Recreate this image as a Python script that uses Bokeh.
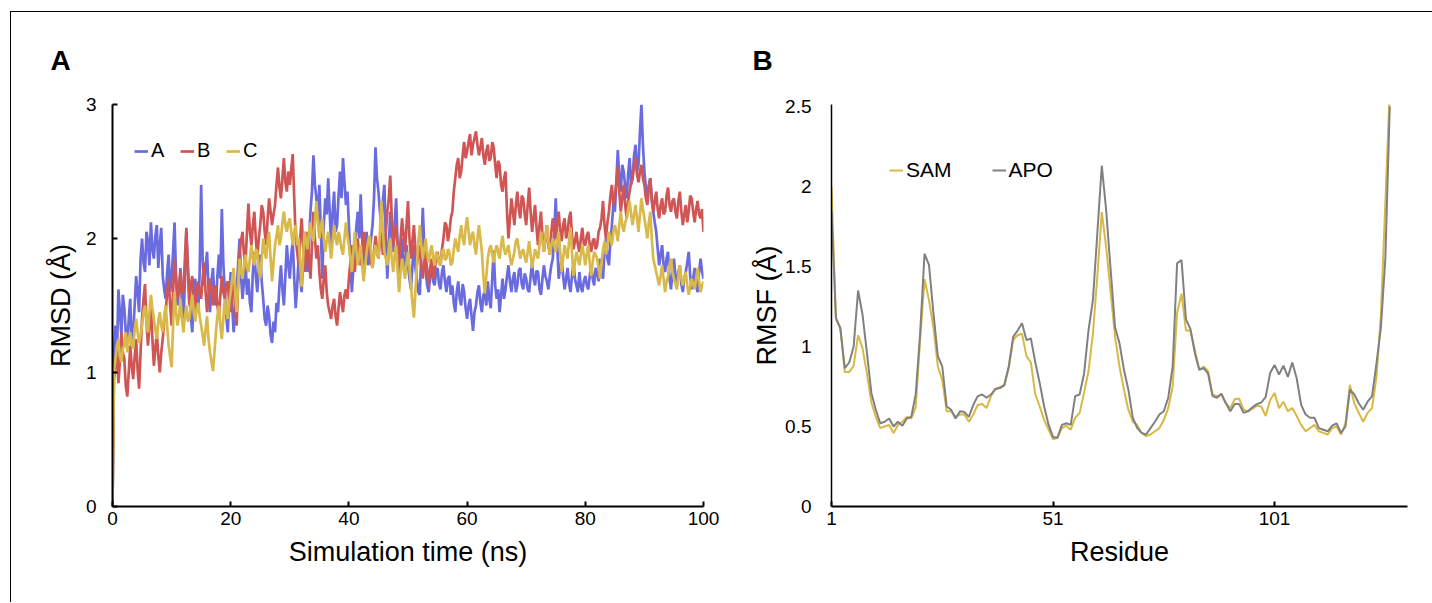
from bokeh.plotting import figure
from bokeh.models import Range1d, FixedTicker, Legend, LegendItem
from bokeh.layouts import row
from bokeh.embed import file_html
from bokeh.resources import INLINE
import numpy as np

# ---------------- data: panel A (RMSD vs time, sampled every 0.25 ns) ----------------
time_ns = np.arange(0, 100.001, 0.25)

rmsd_a = [
    0.0, 1.15, 1.35, 1.12, 1.62, 1.45, 1.28, 1.58, 1.48, 1.3, 1.22, 1.4, 1.55, 1.18, 1.3, 1.5, 1.72, 1.6, 1.45, 1.85,
    2.0, 1.82, 1.75, 2.05, 1.98, 1.8, 2.12, 1.92, 1.85, 2.02, 2.1, 1.78, 1.95, 2.08, 1.72, 1.62, 1.55, 1.75, 1.88, 1.6,
    1.7, 1.9, 2.12, 1.72, 1.5, 1.62, 1.78, 1.52, 1.35, 1.7, 2.05, 1.8, 1.6, 1.42, 1.3, 1.55, 1.7, 1.5, 1.45, 1.75,
    2.4, 1.85, 1.65, 1.78, 1.9, 1.62, 1.45, 1.68, 1.78, 1.55, 1.5, 1.72, 1.88, 1.7, 2.22, 1.82, 1.6, 1.42, 1.3, 1.55,
    1.75, 1.5, 1.3, 1.48, 1.62, 1.8, 2.0, 1.72, 1.55, 1.68, 1.85, 1.58, 1.7, 1.52, 1.45, 1.75, 1.9, 1.72, 1.6, 1.78,
    1.88, 1.68, 1.55, 1.4, 1.35, 1.5, 1.42, 1.28, 1.22, 1.38, 1.3, 1.52, 1.45, 1.65, 1.8, 1.62, 1.5, 1.72, 1.95, 1.8,
    1.7, 1.88, 1.98, 1.7, 1.48, 1.65, 1.85, 1.72, 1.6, 1.82, 2.05, 1.9, 1.75, 1.98, 2.2, 2.35, 2.62, 2.4, 2.3, 2.15,
    2.4, 2.05, 1.7, 2.1, 2.3, 2.18, 2.45, 2.2, 1.95, 2.2, 2.35, 2.05, 2.1, 2.32, 2.5, 2.3, 2.6, 2.42, 2.25, 2.35,
    2.1, 1.85, 1.6, 1.78, 1.9, 2.08, 2.2, 2.0, 2.33, 2.0, 1.75, 1.92, 2.05, 1.8, 1.85, 2.0, 2.1, 2.3, 2.68, 2.45,
    2.35, 2.2, 2.1, 2.28, 2.4, 2.0, 1.7, 1.95, 2.2, 2.05, 1.9, 2.12, 2.3, 1.92, 1.65, 1.85, 2.0, 1.82, 1.75, 1.95,
    1.8, 1.7, 1.62, 1.8, 1.95, 1.78, 1.7, 1.6, 1.58, 1.9, 2.23, 1.95, 1.75, 1.65, 1.6, 1.72, 1.82, 1.68, 1.65, 1.75,
    1.78, 1.66, 1.62, 1.75, 1.8, 1.68, 1.6, 1.7, 1.72, 1.58, 1.65, 1.52, 1.45, 1.6, 1.68, 1.55, 1.5, 1.66, 1.6, 1.48,
    1.4, 1.5, 1.55, 1.42, 1.31, 1.45, 1.5, 1.6, 1.65, 1.52, 1.45, 1.58, 1.6, 1.5, 1.68, 1.55, 1.48, 1.7, 1.91, 1.65,
    1.55, 1.62, 1.45, 1.58, 1.7, 1.55, 1.62, 1.72, 1.8, 1.68, 1.6, 1.7, 1.75, 1.6, 1.65, 1.76, 1.78, 1.66, 1.62, 1.74,
    1.7, 1.62, 1.6, 1.72, 1.82, 1.7, 1.65, 1.76, 1.75, 1.62, 1.58, 1.7, 1.8, 1.72, 1.68, 1.62, 1.72, 1.8, 1.85, 2.05,
    2.3, 1.95, 1.7, 1.78, 1.85, 1.72, 1.62, 1.7, 1.78, 1.66, 1.6, 1.72, 1.82, 1.7, 1.65, 1.6, 1.75, 1.64, 1.6, 1.68,
    1.72, 1.65, 1.62, 1.72, 1.8, 1.7, 1.65, 1.78, 1.75, 1.68, 1.85, 1.75, 1.7, 1.9, 2.0, 1.85, 1.8, 1.98, 2.1, 2.25,
    2.2, 2.42, 2.66, 2.45, 2.35, 2.55, 2.5, 2.38, 2.3, 2.48, 2.6, 2.4, 2.45, 2.62, 2.7, 2.5, 2.55, 2.8, 3.0, 2.7,
    2.5, 2.38, 2.3, 2.4, 2.45, 2.28, 2.2, 2.12, 2.05, 1.92, 1.8, 1.88, 1.95, 1.8, 1.75, 1.85, 1.9, 1.7, 1.62, 1.75,
    1.85, 1.72, 1.65, 1.75, 1.8, 1.66, 1.6, 1.7, 1.75, 1.82, 1.9, 1.72, 1.62, 1.7, 1.78, 1.65, 1.6, 1.75, 1.85, 1.76,
    1.7]

rmsd_b = [
    0.0, 0.95, 1.05, 1.2, 0.92, 1.08, 1.3, 1.15, 1.1, 0.9, 0.82, 1.0, 1.2, 1.05, 0.95, 1.12, 1.25, 1.02, 0.88, 1.15,
    1.4, 1.55, 1.66, 1.38, 1.2, 1.35, 1.5, 1.25, 1.05, 1.18, 1.3, 1.12, 1.0, 1.15, 1.25, 1.38, 1.45, 1.6, 1.7, 1.5,
    1.35, 1.6, 1.85, 1.7, 1.55, 1.62, 1.75, 1.58, 1.6, 1.85, 2.08, 1.75, 1.5, 1.65, 1.72, 1.55, 1.45, 1.58, 1.68, 1.6,
    1.55, 1.7, 1.82, 1.6, 1.45, 1.58, 1.7, 1.62, 1.5, 1.6, 1.65, 1.5, 1.42, 1.58, 1.72, 1.6, 1.55, 1.66, 1.68, 1.52,
    1.45, 1.6, 1.7, 1.5, 1.35, 1.65, 1.9, 1.98, 2.05, 1.88, 1.8, 2.05, 2.26, 2.05, 1.95, 2.1, 2.2, 2.0, 1.85, 2.0,
    2.1, 2.25, 2.2, 2.05, 1.95, 2.15, 2.3, 2.2, 2.1, 2.18, 2.25, 2.4, 2.53, 2.38, 2.3, 2.45, 2.6, 2.42, 2.35, 2.5,
    2.4, 2.52, 2.63, 2.3, 2.0, 1.9, 1.8, 2.0, 2.15, 1.95, 1.75, 1.9, 2.05, 1.85, 1.7, 1.95, 2.2, 2.0, 1.85, 1.95,
    1.75, 1.62, 1.55, 1.7, 1.8, 1.6, 1.5, 1.45, 1.4, 1.5, 1.55, 1.42, 1.35, 1.48, 1.6, 1.52, 1.45, 1.58, 1.62, 1.55,
    1.7, 1.82, 1.95, 1.8, 1.75, 1.9, 2.0, 1.85, 1.8, 1.95, 2.05, 1.9, 1.85, 2.0, 1.95, 1.82, 1.78, 1.9, 2.02, 1.92,
    1.85, 1.98, 2.05, 1.88, 1.9, 2.05, 2.2, 2.3, 2.47, 2.15, 1.95, 2.05, 2.1, 1.92, 1.8, 2.0, 2.15, 2.02, 1.9, 2.1,
    2.28, 2.0, 1.85, 1.98, 2.1, 1.92, 1.8, 1.88, 1.95, 1.8, 1.7, 1.82, 1.9, 1.75, 1.65, 1.78, 1.85, 1.7, 1.75, 1.85,
    1.9, 1.82, 1.8, 1.92, 2.0, 2.12, 2.1, 1.98, 2.05, 2.15, 2.2, 2.35, 2.45, 2.55, 2.6, 2.45, 2.5, 2.62, 2.72, 2.6,
    2.65, 2.72, 2.78, 2.62, 2.7, 2.75, 2.8, 2.7, 2.62, 2.68, 2.75, 2.62, 2.55, 2.65, 2.7, 2.58, 2.6, 2.72, 2.68, 2.55,
    2.45, 2.58, 2.55, 2.4, 2.35, 2.45, 2.5, 2.2, 2.0, 2.15, 2.3, 2.2, 2.1, 2.25, 2.35, 2.22, 2.15, 2.32, 2.3, 2.18,
    2.1, 2.25, 2.38, 2.2, 2.05, 2.15, 2.25, 2.08, 1.95, 2.1, 2.2, 2.02, 1.9, 2.0, 2.1, 1.95, 1.88, 2.05, 2.15, 2.05,
    2.0, 2.12, 2.2, 2.05, 1.98, 2.1, 2.15, 2.0, 2.05, 2.15, 2.2, 2.02, 1.92, 1.98, 2.05, 1.95, 1.9, 2.0, 2.08, 1.96,
    1.95, 2.02, 2.05, 1.95, 1.9, 1.98, 2.0, 1.92, 1.95, 2.05, 2.08, 2.15, 2.28, 2.1, 2.0, 2.12, 2.2, 2.32, 2.4, 2.25,
    2.3, 2.42, 2.53, 2.35, 2.2, 2.3, 2.4, 2.25, 2.15, 2.28, 2.35, 2.42, 2.45, 2.55, 2.6, 2.48, 2.42, 2.5, 2.55, 2.45,
    2.4, 2.3, 2.25, 2.38, 2.45, 2.3, 2.2, 2.28, 2.35, 2.22, 2.15, 2.25, 2.3, 2.18, 2.2, 2.32, 2.38, 2.25, 2.2, 2.28,
    2.3, 2.2, 2.15, 2.28, 2.35, 2.2, 2.1, 2.18, 2.25, 2.12, 2.2, 2.32, 2.3, 2.2, 2.12, 2.22, 2.28, 2.18, 2.15, 2.22,
    2.05]

rmsd_c = [
    0.0, 1.0, 1.1, 1.2, 1.25, 1.12, 1.08, 1.18, 1.2, 1.3, 1.15, 1.25, 1.3, 1.2, 1.18, 1.32, 1.4, 1.3, 1.22, 1.28,
    1.35, 1.45, 1.5, 1.38, 1.3, 1.45, 1.58, 1.48, 1.4, 1.32, 1.25, 1.38, 1.45, 1.35, 1.3, 1.42, 1.5, 1.35, 1.2, 1.12,
    1.04, 1.35, 1.6, 1.45, 1.35, 1.42, 1.55, 1.4, 1.3, 1.42, 1.5, 1.38, 1.4, 1.5, 1.58, 1.45, 1.38, 1.48, 1.52, 1.42,
    1.35, 1.28, 1.2, 1.32, 1.42, 1.25, 1.15, 1.08, 1.01, 1.15, 1.3, 1.42, 1.5, 1.35, 1.25, 1.4, 1.55, 1.45, 1.4, 1.52,
    1.6, 1.7, 1.78, 1.6, 1.45, 1.65, 1.85, 1.75, 1.7, 1.8, 1.88, 1.78, 1.75, 1.85, 1.95, 1.85, 1.8, 1.92, 1.9, 1.78,
    1.7, 1.85, 2.0, 1.9, 1.85, 1.98, 2.05, 1.85, 1.68, 1.82, 1.95, 2.02, 2.1, 1.95, 2.0, 2.12, 2.2, 2.1, 2.05, 2.12,
    2.15, 2.05, 1.95, 2.05, 2.1, 1.95, 2.0, 1.82, 1.64, 1.85, 2.05, 1.98, 1.92, 2.05, 2.12, 2.02, 1.98, 2.12, 2.28, 2.12,
    2.0, 2.08, 2.15, 2.0, 1.9, 1.98, 2.05, 1.95, 1.85, 1.98, 2.1, 2.0, 1.95, 2.05, 2.0, 1.92, 1.88, 2.0, 2.12, 2.02,
    1.95, 1.85, 1.75, 1.9, 2.05, 1.92, 1.8, 1.88, 1.95, 1.8, 1.68, 1.8, 1.9, 1.98, 2.02, 1.9, 1.78, 1.88, 1.95, 1.88,
    1.85, 2.05, 2.28, 2.05, 1.9, 1.85, 1.8, 1.92, 2.0, 1.85, 1.75, 1.88, 1.95, 1.75, 1.6, 1.75, 1.85, 1.78, 1.7, 1.82,
    1.9, 1.78, 1.65, 1.52, 1.41, 1.6, 1.8, 1.98, 2.1, 1.95, 1.85, 1.92, 2.0, 1.88, 1.82, 1.9, 1.95, 1.85, 1.8, 1.9,
    1.88, 1.82, 1.8, 1.9, 1.92, 1.84, 1.85, 1.92, 1.9, 1.8, 1.82, 1.92, 2.0, 1.95, 1.9, 2.02, 2.1, 2.0, 1.95, 2.08,
    2.16, 2.05, 1.95, 2.02, 2.05, 1.95, 1.88, 2.0, 2.1, 2.0, 1.9, 1.72, 1.59, 1.72, 1.85, 1.92, 1.95, 1.88, 1.82, 1.9,
    1.95, 1.9, 1.85, 1.95, 2.02, 1.92, 1.88, 1.92, 1.95, 1.86, 1.8, 1.85, 1.9, 1.98, 2.0, 1.92, 1.85, 1.9, 1.92, 1.86,
    1.82, 1.9, 1.98, 1.88, 1.78, 1.85, 1.92, 1.88, 1.85, 1.95, 2.05, 1.98, 1.9, 2.0, 2.1, 1.98, 1.88, 1.95, 2.0, 1.95,
    1.9, 1.98, 2.05, 1.9, 1.75, 1.85, 1.95, 1.9, 1.85, 1.98, 2.08, 1.9, 1.72, 1.82, 1.9, 1.85, 1.8, 1.88, 1.95, 1.88,
    1.8, 1.88, 1.95, 1.82, 1.72, 1.82, 1.9, 1.88, 1.85, 1.78, 1.7, 1.82, 1.92, 1.98, 1.88, 1.95, 2.05, 2.0, 1.95, 2.05,
    2.1, 2.05, 1.98, 2.1, 2.2, 2.1, 2.05, 2.12, 2.15, 2.22, 2.28, 2.18, 2.1, 2.18, 2.25, 2.15, 2.05, 2.18, 2.3, 2.22,
    2.15, 2.08, 2.0, 2.12, 2.2, 2.0, 1.85, 1.8, 1.75, 1.7, 1.65, 1.72, 1.8, 1.7, 1.6, 1.68, 1.72, 1.8, 1.85, 1.75,
    1.7, 1.66, 1.62, 1.72, 1.8, 1.7, 1.65, 1.7, 1.75, 1.65, 1.58, 1.64, 1.7, 1.66, 1.62, 1.7, 1.78, 1.68, 1.6, 1.65,
    1.68]

time_ticks = [0, 20, 40, 60, 80, 100]
rmsd_ticks = [0, 1, 2, 3]

# ---------------- data: panel B (RMSF vs residue) ----------------
residue = list(range(1, 128))

rmsf_apo = [
    1.85, 1.18, 1.11, 0.865, 0.90, 1.00, 1.35, 1.20, 0.96, 0.71,
    0.605, 0.52, 0.53, 0.55, 0.50, 0.53, 0.505, 0.55, 0.56, 0.70,
    1.08, 1.58, 1.51, 1.21, 0.94, 0.875, 0.625, 0.605, 0.55, 0.595,
    0.59, 0.56, 0.635, 0.69, 0.70, 0.68, 0.70, 0.735, 0.74, 0.76,
    0.875, 1.06, 1.10, 1.145, 1.04, 1.05, 0.90, 0.77, 0.625, 0.51,
    0.435, 0.43, 0.51, 0.52, 0.51, 0.69, 0.70, 0.83, 1.10, 1.29,
    1.71, 2.13, 1.85, 1.48, 1.12, 1.02, 0.855, 0.73, 0.555, 0.49,
    0.46, 0.45, 0.49, 0.53, 0.575, 0.595, 0.68, 0.875, 1.52, 1.54,
    1.17, 1.11, 0.96, 0.855, 0.865, 0.83, 0.69, 0.68, 0.705, 0.645,
    0.595, 0.64, 0.64, 0.585, 0.595, 0.62, 0.64, 0.65, 0.685, 0.835,
    0.885, 0.825, 0.88, 0.81, 0.90, 0.80, 0.635, 0.575, 0.555, 0.555,
    0.49, 0.48, 0.47, 0.505, 0.52, 0.46, 0.50, 0.73, 0.70, 0.645,
    0.605, 0.655, 0.69, 0.895, 1.12, 1.55, 2.50]

rmsf_sam = [
    2.00, 1.17, 1.12, 0.84, 0.84, 0.88, 1.07, 0.99, 0.83, 0.65,
    0.56, 0.49, 0.50, 0.51, 0.46, 0.51, 0.53, 0.56, 0.55, 0.62,
    1.04, 1.42, 1.29, 1.12, 0.875, 0.79, 0.595, 0.595, 0.56, 0.575,
    0.575, 0.53, 0.575, 0.635, 0.64, 0.615, 0.69, 0.735, 0.745, 0.755,
    0.865, 1.04, 1.07, 1.08, 0.94, 0.90, 0.70, 0.625, 0.54, 0.48,
    0.42, 0.43, 0.49, 0.505, 0.48, 0.555, 0.585, 0.71, 0.845, 1.08,
    1.44, 1.84, 1.62, 1.34, 1.06, 0.875, 0.73, 0.605, 0.53, 0.51,
    0.46, 0.44, 0.45, 0.47, 0.49, 0.54, 0.615, 0.75, 1.21, 1.33,
    1.10, 1.10, 0.98, 0.855, 0.875, 0.845, 0.70, 0.69, 0.70, 0.645,
    0.615, 0.67, 0.675, 0.605, 0.595, 0.61, 0.63, 0.625, 0.565, 0.665,
    0.71, 0.615, 0.655, 0.595, 0.615, 0.565, 0.51, 0.47, 0.49, 0.51,
    0.47, 0.46, 0.45, 0.49, 0.50, 0.45, 0.52, 0.76, 0.645, 0.585,
    0.53, 0.585, 0.615, 0.81, 1.20, 1.90, 2.60]

residue_ticks = [1, 51, 101]
rmsf_ticks = [0, 0.5, 1, 1.5, 2, 2.5]

# ---------------- styling ----------------
FONT = "Liberation Sans"
C_A, C_B, C_C = "#6b6be0", "#d05555", "#d9b94a"
C_SAM, C_APO = "#d9b843", "#808080"


def style_axes(p, xw, yw, ytick_in, ystand):
    for ax in (p.xaxis[0], p.yaxis[0]):
        ax.axis_line_color = "black"
        ax.major_tick_line_color = "black"
        ax.minor_tick_line_color = None
        ax.major_tick_out = 0
        ax.major_label_text_font = FONT
        ax.major_label_text_font_size = "19px"
        ax.major_label_text_color = "black"
        ax.axis_label_text_font = FONT
        ax.axis_label_text_font_size = "27px"
        ax.axis_label_text_font_style = "normal"
        ax.axis_label_text_color = "black"
    p.xaxis[0].axis_line_width = xw
    p.yaxis[0].axis_line_width = yw
    p.xaxis[0].major_tick_line_width = xw
    p.yaxis[0].major_tick_line_width = yw
    p.xaxis[0].major_tick_in = 5
    p.yaxis[0].major_tick_in = ytick_in
    p.xaxis[0].major_label_standoff = 5
    p.yaxis[0].major_label_standoff = ystand
    p.xaxis[0].axis_label_standoff = 9
    p.grid.visible = False
    p.outline_line_color = None
    p.background_fill_color = "white"
    p.border_fill_color = "white"


def panel_title(p, letter, offset):
    p.title.text = letter
    p.title.align = "left"
    p.title.offset = offset
    p.title.standoff = 57
    p.title.text_font = FONT
    p.title.text_font_style = "bold"
    p.title.text_font_size = "28px"
    p.title.text_color = "black"


# ---------------- panel A ----------------
pA = figure(width=717, height=590, x_range=Range1d(0, 100), y_range=Range1d(0, 3),
            output_backend="svg", toolbar_location=None,
            min_border_left=101, min_border_right=25, min_border_top=92, min_border_bottom=96)
rA = pA.line(time_ns, rmsd_a, line_color=C_A, line_width=2.7)
rB = pA.line(time_ns, rmsd_b, line_color=C_B, line_width=2.7)
rC = pA.line(time_ns, rmsd_c, line_color=C_C, line_width=2.7)
pA.xaxis.ticker = FixedTicker(ticks=time_ticks)
pA.yaxis.ticker = FixedTicker(ticks=rmsd_ticks)
pA.xaxis.axis_label = "Simulation time (ns)"
pA.yaxis.axis_label = "RMSD (Å)"
style_axes(pA, 2, 2, 5, 16)
pA.yaxis[0].axis_label_standoff = 7
panel_title(pA, "A", -62)

legA = Legend(items=[LegendItem(label="A", renderers=[rA]),
                     LegendItem(label="B", renderers=[rB]),
                     LegendItem(label="C", renderers=[rC])],
              location=(22, 344), orientation="horizontal",
              glyph_width=14, glyph_height=20, label_height=20, label_standoff=3,
              spacing=9, padding=0, margin=0,
              label_text_font=FONT, label_text_font_size="20px", label_text_color="black",
              border_line_alpha=0, background_fill_alpha=0)
pA.add_layout(legA)

# ---------------- panel B ----------------
pB = figure(width=704, height=590, x_range=Range1d(1, 131), y_range=Range1d(0, 2.5125),
            output_backend="svg", toolbar_location=None,
            min_border_left=103, min_border_right=25, min_border_top=92, min_border_bottom=96)
rSAM = pB.line(residue, rmsf_sam, line_color=C_SAM, line_width=2)
rAPO = pB.line(residue, rmsf_apo, line_color=C_APO, line_width=2)
pB.xaxis.ticker = FixedTicker(ticks=residue_ticks)
pB.yaxis.ticker = FixedTicker(ticks=rmsf_ticks)
pB.xaxis.axis_label = "Residue"
pB.yaxis.axis_label = "RMSF (Å)"
style_axes(pB, 2, 1.5, 0, 20)
pB.yaxis[0].axis_label_standoff = 0
panel_title(pB, "B", -79)

legB = Legend(items=[LegendItem(label="SAM", renderers=[rSAM]),
                     LegendItem(label="APO", renderers=[rAPO])],
              location=(58, 324), orientation="horizontal",
              glyph_width=14, glyph_height=20, label_height=20, label_standoff=3,
              spacing=40, padding=0, margin=0,
              label_text_font=FONT, label_text_font_size="21px", label_text_color="black",
              border_line_alpha=0, background_fill_alpha=0)
pB.add_layout(legB)

layout = row(pA, pB, margin=(11, 0, 0, 10),
             styles={"border-top": "1px solid black", "border-left": "1px solid black"})

open("out.html", "w").write(file_html(layout, INLINE))
